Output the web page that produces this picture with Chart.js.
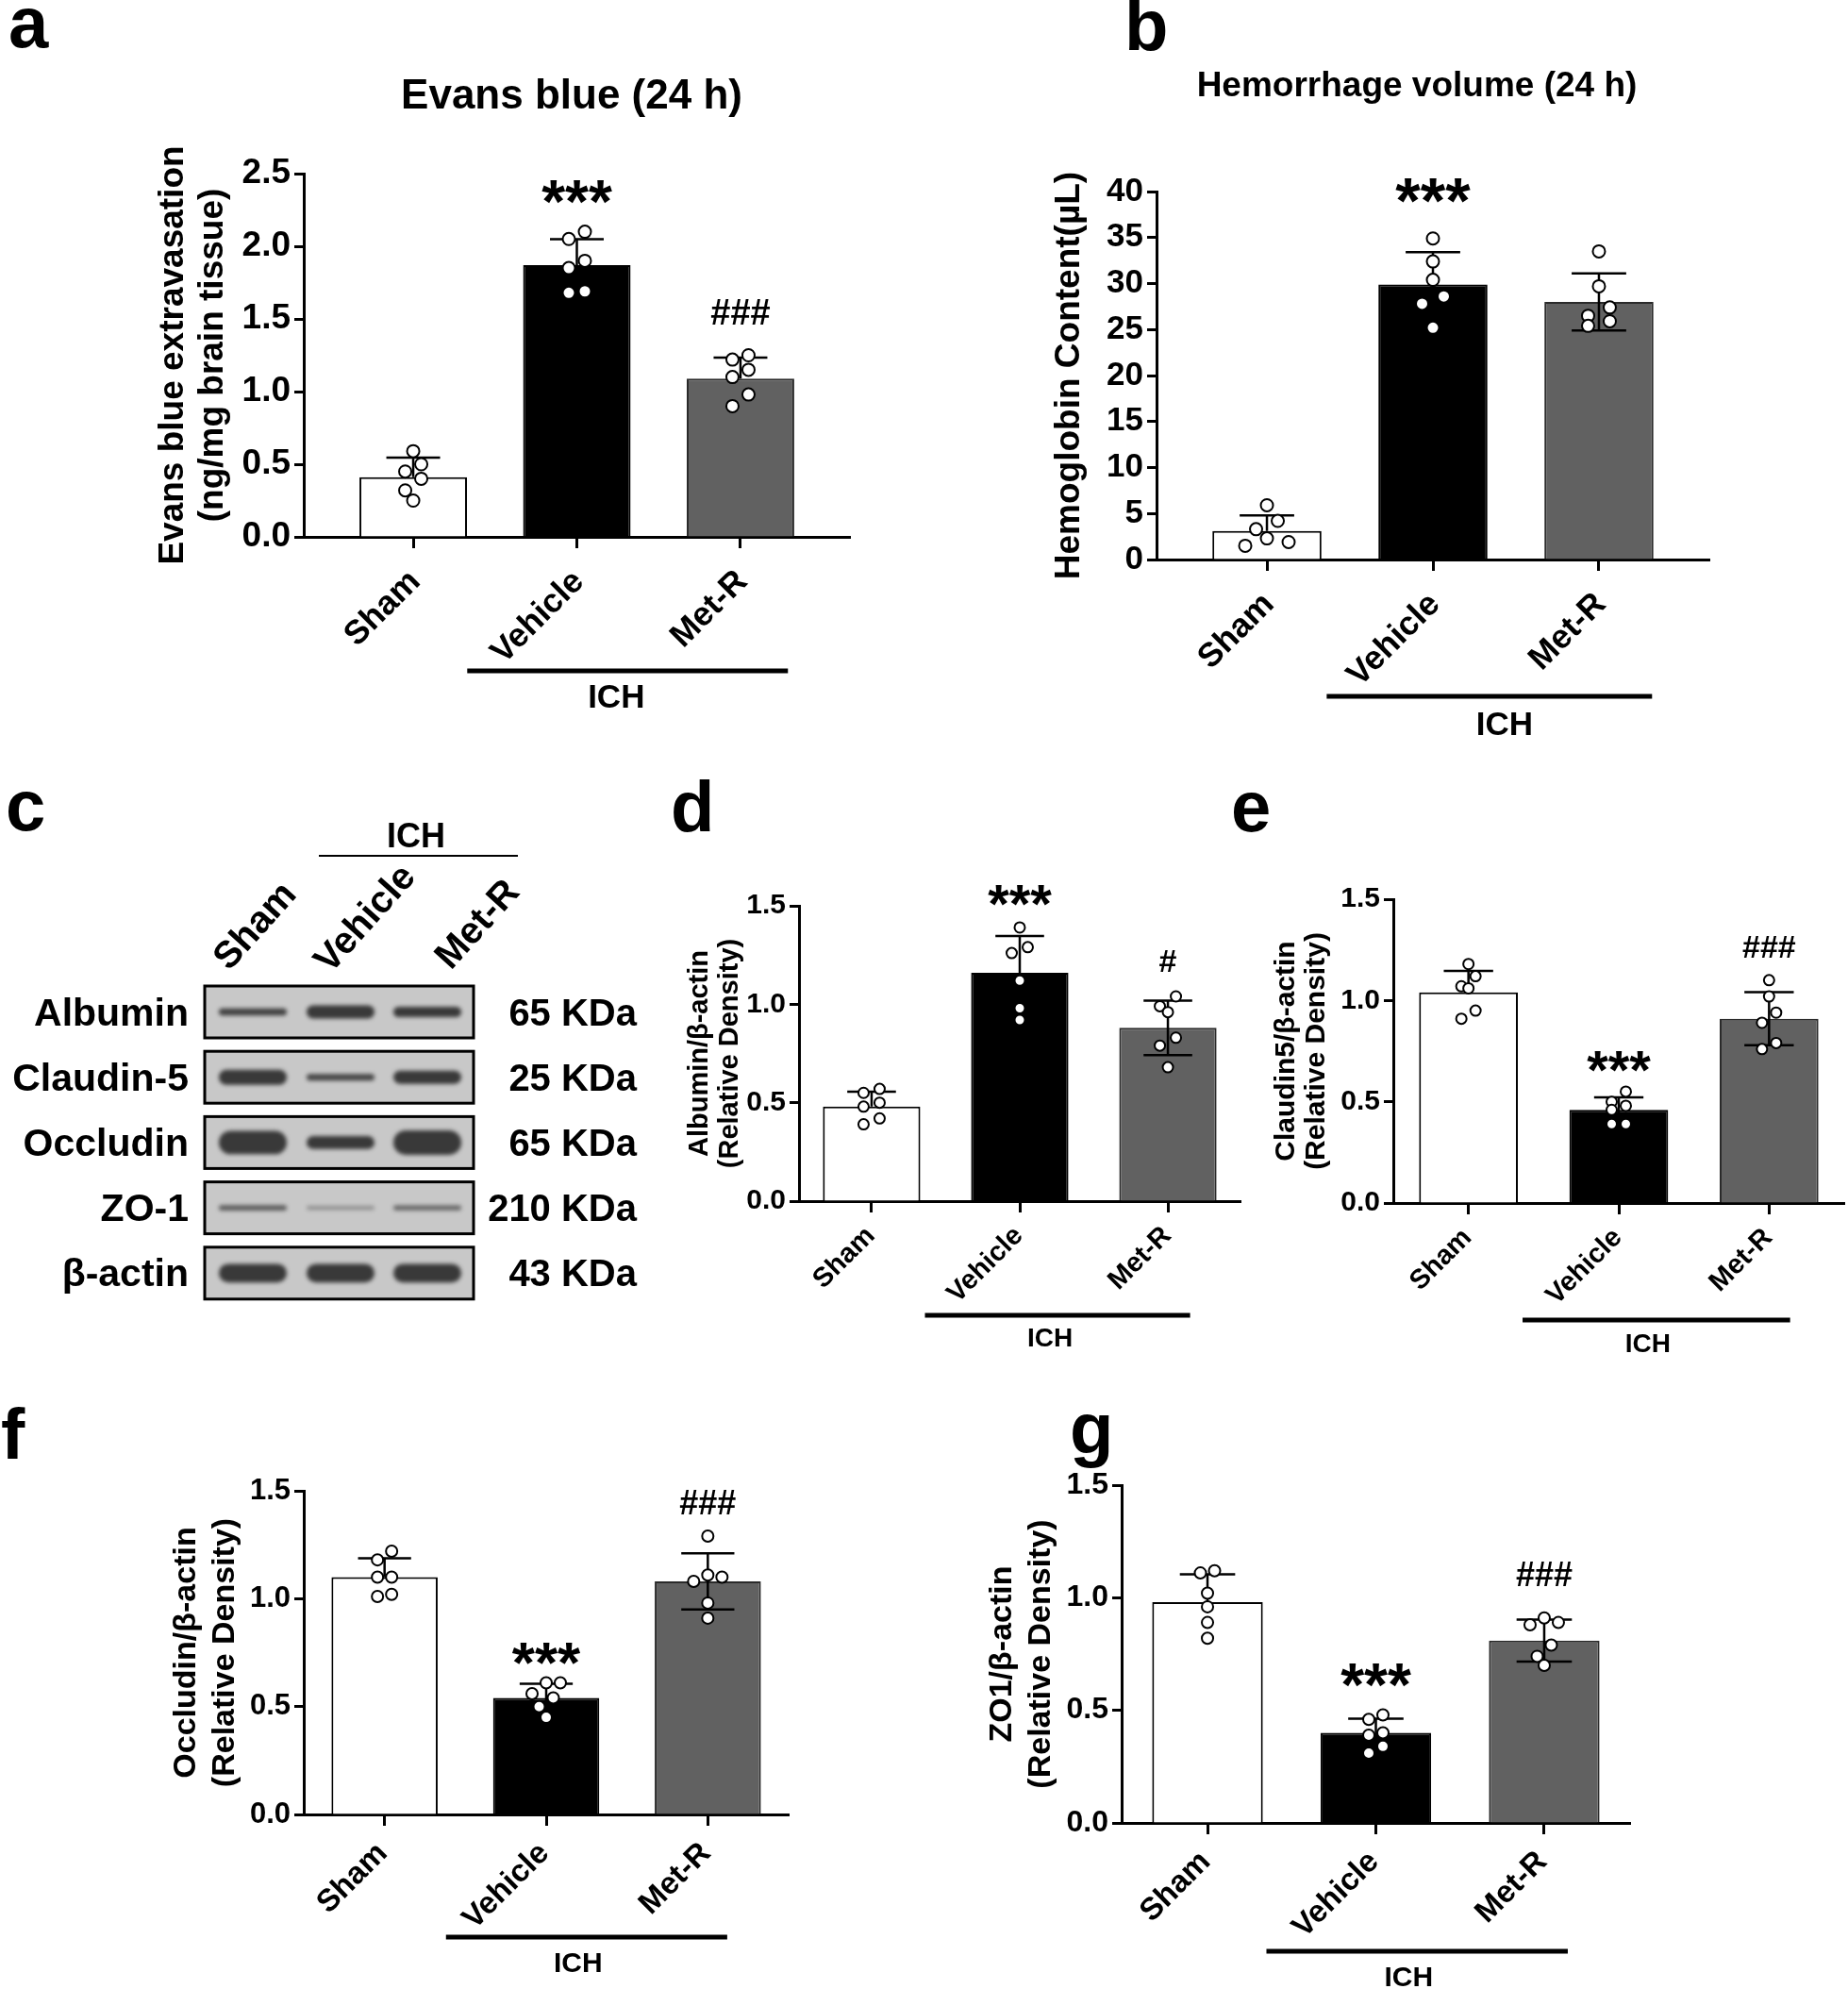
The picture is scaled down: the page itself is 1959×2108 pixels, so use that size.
<!DOCTYPE html>
<html>
<head>
<meta charset="utf-8">
<title>Met-R and BBB integrity after ICH</title>
<script src="https://cdn.jsdelivr.net/npm/chart.js@4.4.1/dist/chart.umd.min.js"></script>
<style>
  html, body { margin: 0; padding: 0; background: #fff; }
  body { position: relative; width: 1959px; height: 2108px; overflow: hidden; }
  canvas { position: absolute; }
</style>
</head>
<body>
<canvas id="overlay" width="1959" height="2108" style="left:0;top:0"></canvas>
<script>
// Groups shared by every panel
const GROUPS = ['Sham', 'Vehicle', 'Met-R'];
const FILLS = ['#ffffff', '#000000', '#616161'];
const EDGES = ['#000000', '#000000', '#2a2a2a'];

// a - Evans blue (24 h)
const evansMean = [0.41, 1.87, 1.09];
const evansSD = [0.135, 0.178, 0.144];
const evansDots = [
  [0.59, 0.50, 0.45, 0.40, 0.32, 0.25],
  [2.10, 2.05, 1.90, 1.85, 1.69, 1.68],
  [1.25, 1.22, 1.15, 1.10, 0.98, 0.90]
];
const evansTicks = [0, 0.5, 1.0, 1.5, 2.0, 2.5];
const evansSig = ['', '***', '###'];

// b - Hemorrhage volume (24 h)
const hemoMean = [3.1, 29.9, 28.0];
const hemoSD = [1.7, 3.5, 3.1];
const hemoDots = [
  [5.9, 4.2, 3.3, 2.3, 1.9, 1.5],
  [34.9, 32.4, 30.4, 28.6, 27.8, 25.2],
  [33.5, 29.7, 27.4, 26.5, 25.9, 25.4]
];
const hemoTicks = [0, 5, 10, 15, 20, 25, 30, 35, 40];
const hemoSig = ['', '***', ''];

// d - Albumin / beta-actin
const albMean = [0.48, 1.16, 0.88];
const albSD = [0.076, 0.187, 0.138];
const albDots = [
  [0.57, 0.55, 0.50, 0.48, 0.42, 0.39],
  [1.39, 1.29, 1.26, 1.12, 0.98, 0.92],
  [1.04, 0.99, 0.96, 0.83, 0.79, 0.68]
];
const albSig = ['', '***', '#'];

// e - Claudin-5 / beta-actin
const cldMean = [1.04, 0.46, 0.91];
const cldSD = [0.106, 0.062, 0.131];
const cldDots = [
  [1.18, 1.12, 1.07, 1.06, 0.95, 0.91],
  [0.55, 0.50, 0.48, 0.46, 0.39, 0.39],
  [1.10, 1.02, 0.94, 0.89, 0.79, 0.76]
];
const cldSig = ['', '***', '###'];

// f - Occludin / beta-actin
const occMean = [1.10, 0.54, 1.08];
const occSD = [0.087, 0.066, 0.13];
const occDots = [
  [1.22, 1.18, 1.10, 1.10, 1.02, 1.01],
  [0.61, 0.61, 0.56, 0.54, 0.50, 0.45],
  [1.29, 1.11, 1.10, 1.08, 0.98, 0.91]
];
const occSig = ['', '***', '###'];

// g - ZO-1 / beta-actin
const zoMean = [0.98, 0.40, 0.81];
const zoSD = [0.124, 0.063, 0.093];
const zoDots = [
  [1.12, 1.11, 1.02, 0.96, 0.89, 0.82],
  [0.48, 0.46, 0.40, 0.39, 0.34, 0.31],
  [0.91, 0.89, 0.88, 0.79, 0.74, 0.70]
];
const zoSig = ['', '***', '###'];

const relTicks = [0, 0.5, 1.0, 1.5];

// c - western blot, band strength per lane (Sham, Vehicle, Met-R)
const blotRows = ['Albumin', 'Claudin-5', 'Occludin', 'ZO-1', 'β-actin'];
const blotKDa = ['65 KDa', '25 KDa', '65 KDa', '210 KDa', '43 KDa'];
const blotBand = [
  [0.15, 0.45, 0.32],
  [0.55, 0.14, 0.45],
  [0.95, 0.45, 1.00],
  [0.08, 0.005, 0.06],
  [0.72, 0.72, 0.72]
];

const FONT = "'Liberation Sans', Arial, Helvetica, sans-serif";
const ROW_DY = 12.5;
const SPREAD = { 1: [0], 2: [0.5, -0.5], 3: [0, 1, -1], 4: [0.5, -0.5, 1.5, -1.5] };

Chart.defaults.font.family = FONT;
Chart.defaults.font.weight = 'bold';
Chart.defaults.color = '#000';

// Prism-like scatter: points at similar height share a row, spread symmetrically
function swarm(pts, gap) {
  const sorted = pts.slice().sort((p, q) => p.y - q.y);
  const rows = [];
  sorted.forEach(p => {
    const row = rows[rows.length - 1];
    if (row && p.y - row[0].y < ROW_DY) row.push(p);
    else rows.push([p]);
  });
  rows.forEach(row => {
    const pat = SPREAD[row.length] || row.map((_, j) => j - (row.length - 1) / 2);
    row.forEach((p, j) => { p.x += pat[j] * gap; });
  });
}

function panelExtras(d, L) {
  return {
    id: 'extras',
    afterDatasetsUpdate(chart) {
      const meta = chart.getDatasetMeta(1);
      const src = chart.data.datasets[1].data;
      const byGroup = GROUPS.map(() => []);
      meta.data.forEach((pt, k) => byGroup[src[k].x].push(pt));
      byGroup.forEach(pts => swarm(pts, L.gap));
    },
    afterDatasetDraw(chart, args) {
      if (args.index !== 0) return;
      const { ctx, scales: { x, y } } = chart;
      ctx.save();
      ctx.strokeStyle = '#000';
      ctx.lineWidth = 2.5;
      d.mean.forEach((m, i) => {
        const bw = args.meta.data[i].width;
        const cx = x.getPixelForValue(i);
        const hi = y.getPixelForValue(m + d.sd[i]);
        const lo = y.getPixelForValue(m - d.sd[i]);
        const mid = y.getPixelForValue(m);
        ctx.beginPath();
        ctx.moveTo(cx, L.lower[i] ? lo : mid);
        ctx.lineTo(cx, hi);
        ctx.moveTo(cx - bw / 4, hi);
        ctx.lineTo(cx + bw / 4, hi);
        if (L.lower[i]) {
          ctx.moveTo(cx - bw / 4, lo);
          ctx.lineTo(cx + bw / 4, lo);
        }
        ctx.stroke();
      });
      ctx.restore();
    },
    afterDatasetsDraw(chart) {
      const { ctx, chartArea, scales: { x, y } } = chart;
      ctx.save();
      ctx.fillStyle = '#000';
      ctx.textAlign = 'center';
      ctx.textBaseline = 'alphabetic';
      // significance marks
      d.sig.forEach((s, i) => {
        if (!s) return;
        const top = Math.min(y.getPixelForValue(d.mean[i] + d.sd[i]),
          ...d.dots[i].map(v => y.getPixelForValue(v)));
        const star = s[0] === '*';
        const size = star ? L.starSize : L.hashSize;
        const c = top - L.annGap;
        ctx.font = `bold ${size}px ${FONT}`;
        ctx.fillText(s, x.getPixelForValue(i), c + (star ? 0.57 : 0.35) * size);
      });
      // ICH bracket under Vehicle and Met-R
      const x0 = x.getPixelForValue(L.ich[0]);
      const x1 = x.getPixelForValue(L.ich[1]);
      ctx.fillRect(x0, chartArea.bottom + L.ichLine - 2.5, x1 - x0, 5);
      ctx.font = `bold ${L.ichSize}px ${FONT}`;
      ctx.fillText('ICH', (x0 + x1) / 2 + L.ichDx, chartArea.bottom + L.ichText);
      ctx.restore();
    }
  };
}

function makePanel(L, d) {
  const cv = document.createElement('canvas');
  const cLeft = L.left - L.yw;
  const cTop = L.top - 100;
  const cW = L.right - cLeft + 40;
  const cH = L.bottom - cTop + 250;
  cv.width = cW;
  cv.height = cH;
  cv.style.left = cLeft + 'px';
  cv.style.top = cTop + 'px';
  document.body.appendChild(cv);

  const axisGrid = (len) => ({
    display: true, drawOnChartArea: false, drawTicks: true, offset: false,
    tickLength: len, tickWidth: 3, tickColor: '#000'
  });

  return new Chart(cv, {
    type: 'bar',
    data: {
      datasets: [
        {
          type: 'bar',
          data: d.mean.map((m, i) => ({ x: i, y: m })),
          backgroundColor: FILLS,
          borderColor: EDGES,
          borderWidth: 2,
          categoryPercentage: 1,
          barPercentage: 0.657,
          order: 2
        },
        {
          type: 'scatter',
          data: d.dots.flatMap((arr, i) => arr.map(v => ({ x: i, y: v }))),
          pointRadius: L.r,
          pointBackgroundColor: '#fff',
          pointBorderColor: '#000',
          pointBorderWidth: 2,
          order: 1
        }
      ]
    },
    options: {
      responsive: false,
      animation: false,
      events: [],
      layout: { padding: { left: 0, top: 100, right: 40, bottom: 50 } },
      plugins: { legend: { display: false }, tooltip: { enabled: false } },
      scales: {
        x: {
          type: 'linear', min: -L.pad, max: 2 + L.pad, offset: false, z: 1,
          afterBuildTicks: s => { s.ticks = GROUPS.map((g, i) => ({ value: i })); },
          afterFit: s => { s.height = 200; },
          ticks: {
            callback: v => GROUPS[v], autoSkip: false,
            minRotation: L.rot, maxRotation: L.rot,
            padding: L.xpad, labelOffset: L.labelOffset,
            font: { size: L.catSize, weight: 'bold' }, color: '#000'
          },
          grid: axisGrid(12),
          border: { display: true, color: '#000', width: 3 }
        },
        y: {
          type: 'linear', min: 0, max: d.ticks[d.ticks.length - 1], z: 1,
          afterBuildTicks: s => { s.ticks = d.ticks.map(v => ({ value: v })); },
          afterFit: s => { s.width = L.yw; },
          ticks: {
            callback: d.fmt, padding: 4,
            font: { size: L.tickSize, weight: 'bold' }, color: '#000'
          },
          grid: axisGrid(10),
          border: { display: true, color: '#000', width: 3 },
          title: {
            display: true, text: d.title, padding: 0, color: '#000',
            font: { size: L.titleSize, weight: 'bold', lineHeight: L.titleLH / L.titleSize }
          }
        }
      }
    },
    plugins: [panelExtras(d, L)]
  });
}

const oneDec = v => Number(v).toFixed(1);
const whole = v => String(v);

makePanel(
  { left: 322, right: 901, top: 184, bottom: 569, pad: 0.669, yw: 159, tickSize: 37, catSize: 35.5, rot: 45,
    xpad: 15, labelOffset: 2, titleSize: 37, titleLH: 42, r: 6.5, gap: 17, annGap: 46, starSize: 64, hashSize: 38,
    ich: [0.33, 2.29], ichLine: 142, ichText: 181, ichSize: 35, ichDx: -12, lower: [false, false, false] },
  { mean: evansMean, sd: evansSD, dots: evansDots, ticks: evansTicks, sig: evansSig, fmt: oneDec,
    title: ['Evans blue extravasation', '(ng/mg brain tissue)'] }
);
makePanel(
  { left: 1226, right: 1812, top: 203, bottom: 593, pad: 0.665, yw: 113, tickSize: 35, catSize: 35.5, rot: 45,
    xpad: 15, labelOffset: 2, titleSize: 37, titleLH: 42, r: 6.5, gap: 23, annGap: 55, starSize: 68, hashSize: 38,
    ich: [0.36, 2.32], ichLine: 145, ichText: 186, ichSize: 35, ichDx: 16, lower: [false, true, true] },
  { mean: hemoMean, sd: hemoSD, dots: hemoDots, ticks: hemoTicks, sig: hemoSig, fmt: whole,
    title: ['Hemoglobin Content(µL)'] }
);
makePanel(
  { left: 847, right: 1315, top: 960, bottom: 1273, pad: 0.49, yw: 121, tickSize: 30, catSize: 29, rot: 45,
    xpad: 8, labelOffset: -1, titleSize: 29, titleLH: 32, r: 5.5, gap: 17, annGap: 38, starSize: 58, hashSize: 34,
    ich: [0.36, 2.15], ichLine: 121, ichText: 154, ichSize: 28, ichDx: -8, lower: [false, true, true] },
  { mean: albMean, sd: albSD, dots: albDots, ticks: relTicks, sig: albSig, fmt: oneDec,
    title: ['Albumin/β-actin', '(Relative Density)'] }
);
makePanel(
  { left: 1477, right: 1955, top: 953, bottom: 1275, pad: 0.5, yw: 129, tickSize: 30, catSize: 29, rot: 45,
    xpad: 8, labelOffset: -1, titleSize: 30, titleLH: 32, r: 5.5, gap: 15, annGap: 36, starSize: 58, hashSize: 34,
    ich: [0.36, 2.14], ichLine: 124, ichText: 158, ichSize: 28, ichDx: -9, lower: [false, true, true] },
  { mean: cldMean, sd: cldSD, dots: cldDots, ticks: relTicks, sig: cldSig, fmt: oneDec,
    title: ['Claudin5/β-actin', '(Relative Density)'] }
);
makePanel(
  { left: 322, right: 836, top: 1580, bottom: 1923, pad: 0.5, yw: 145, tickSize: 31, catSize: 33, rot: 45,
    xpad: 10, labelOffset: -2, titleSize: 34, titleLH: 41, r: 6, gap: 15, annGap: 36, starSize: 62, hashSize: 36,
    ich: [0.38, 2.12], ichLine: 130, ichText: 167, ichSize: 30, ichDx: -9, lower: [false, true, true] },
  { mean: occMean, sd: occSD, dots: occDots, ticks: relTicks, sig: occSig, fmt: oneDec,
    title: ['Occludin/β-actin', '(Relative Density)'] }
);
makePanel(
  { left: 1189, right: 1728, top: 1574, bottom: 1932, pad: 0.51, yw: 147, tickSize: 32, catSize: 33, rot: 45,
    xpad: 10, labelOffset: -2, titleSize: 34, titleLH: 41, r: 6, gap: 15, annGap: 46, starSize: 64, hashSize: 36,
    ich: [0.35, 2.14], ichLine: 136, ichText: 173, ichSize: 30, ichDx: -9, lower: [false, true, true] },
  { mean: zoMean, sd: zoSD, dots: zoDots, ticks: relTicks, sig: zoSig, fmt: oneDec,
    title: ['ZO1/β-actin', '(Relative Density)'] }
);

// Panel letters, panel titles and the blot image
function drawOverlay() {
  const ctx = document.getElementById('overlay').getContext('2d');
  const font = s => `bold ${s}px ${FONT}`;
  ctx.fillStyle = '#000';
  ctx.textBaseline = 'alphabetic';

  ctx.font = font(76);
  ctx.textAlign = 'left';
  [['a', 9, 50], ['b', 1192, 53], ['c', 6, 880], ['d', 711, 881], ['e', 1305, 881], ['f', 1, 1546], ['g', 1134, 1540]]
    .forEach(([t, x, y]) => ctx.fillText(t, x, y));

  ctx.textAlign = 'center';
  ctx.font = font(44);
  ctx.fillText('Evans blue (24 h)', 606, 115);
  ctx.font = font(37);
  ctx.fillText('Hemorrhage volume (24 h)', 1502, 102);

  drawBlot(ctx, font);
}

function drawBlot(ctx, font) {
  const boxL = 217, boxW = 285, boxH = 55, pitch = 69.2, firstTop = 1045;
  const lanes = [268, 361, 453];
  const bandW = 72;

  blotRows.forEach((name, r) => {
    const top = firstTop + r * pitch;
    ctx.fillStyle = '#c8c8c8';
    ctx.fillRect(boxL, top, boxW, boxH);

    blotBand[r].forEach((v, k) => {
      const h = 4 + 22 * v;
      const a = Math.min(0.92, 0.25 + 1.6 * Math.sqrt(v));
      ctx.save();
      ctx.filter = 'blur(2px)';
      ctx.fillStyle = `rgba(45,45,45,${a})`;
      ctx.beginPath();
      ctx.roundRect(lanes[k] - bandW / 2, top + boxH / 2 - h / 2, bandW, h, h / 2);
      ctx.fill();
      ctx.restore();
    });

    ctx.strokeStyle = '#000';
    ctx.lineWidth = 3;
    ctx.strokeRect(boxL, top, boxW, boxH);

    ctx.fillStyle = '#000';
    ctx.font = font(41);
    ctx.textAlign = 'right';
    ctx.fillText(name, 200, top + boxH / 2 + 14);
    ctx.font = font(40);
    ctx.fillText(blotKDa[r], 675, top + boxH / 2 + 14);
  });

  // lane labels
  ctx.font = font(40);
  ctx.textAlign = 'left';
  [[243, 1030], [350, 1033], [478, 1029]].forEach(([x, y], k) => {
    ctx.save();
    ctx.translate(x, y);
    ctx.rotate(-48 * Math.PI / 180);
    ctx.fillText(GROUPS[k], 0, 0);
    ctx.restore();
  });

  ctx.font = font(36);
  ctx.textAlign = 'center';
  ctx.fillText('ICH', 441, 898);
  ctx.fillRect(338, 906, 211, 2);
}

drawOverlay();
</script>
</body>
</html>
